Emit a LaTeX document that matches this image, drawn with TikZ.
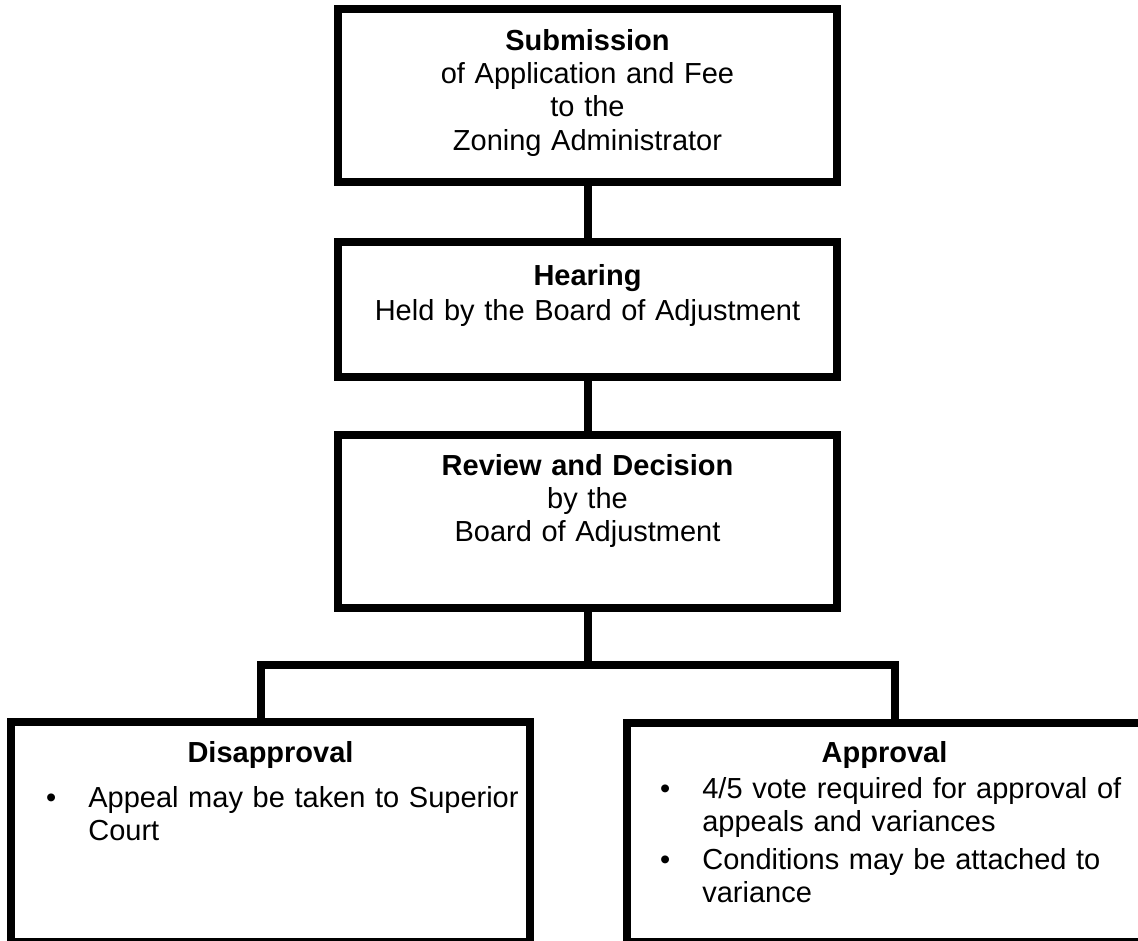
\documentclass[tikz,border=0pt]{standalone}
\usepackage{fontspec}
\setmainfont{Liberation Sans}
\newcommand{\bul}{\leavevmode\llap{\makebox[24pt][l]{•}}}
\begin{document}
\begin{tikzpicture}[x=0.02cm,y=-0.02cm,
  box/.style={draw, line width=0.16cm, inner sep=0pt, outer sep=0pt, line join=miter},
  conn/.style={line width=0.16cm, line join=miter},
  txt/.style={inner sep=0pt, font=\fontsize{16.5}{19}\selectfont},
  ctxt/.style={txt, anchor=base, align=center, text width=9.5cm},
  ltxt/.style={txt, anchor=base west, align=left, text width=9.5cm}]
\useasboundingbox (0,0) rectangle (1138,940);
\clip (0,0) rectangle (1138,940);
\fill[white] (0,0) rectangle (1138,940);
% boxes
\node[box, minimum width=9.98cm, minimum height=3.46cm] (b1) at (587.5,95.5) {};
\node[box, minimum width=9.98cm, minimum height=2.70cm] (b2) at (587.5,309.5) {};
\node[box, minimum width=9.98cm, minimum height=3.46cm] (b3) at (587.5,521.5) {};
\node[box, minimum width=10.38cm, minimum height=4.40cm] (dis) at (270.5,832) {};
\node[box, minimum width=10.30cm, minimum height=4.38cm] (app) at (884.5,832.5) {};
% connectors
\coordinate (j) at (587.5,665);
\coordinate (bl) at (261,665);
\coordinate (br) at (895,665);
\draw[conn] (b1.south) -- (b2.north);
\draw[conn] (b2.south) -- (b3.north);
\draw[conn] (b3.south) -- (j);
\draw[conn] (bl |- dis.north) -- (bl) -- (br) -- (br |- app.north);
% texts
\node[ctxt] (t1) at (587.5,50) {\textbf{Submission}\\of Application and Fee\\to the\\Zoning Administrator};
\node[ctxt] (t2) at (587.5,285) {\textbf{Hearing}\\[1pt]Held by the Board of Adjustment};
\node[ctxt] (t3) at (587.5,475) {\textbf{Review and Decision}\\by the\\Board of Adjustment};
\node[ctxt] (dt) at (270.5,762) {\textbf{Disapproval}};
\node[ltxt] (di) at (88,807) {\bul Appeal may be taken to Superior\\Court};
\node[ctxt] (at) at (884.5,762) {\textbf{Approval}};
\node[ltxt] (ai) at (702,798) {\bul 4/5 vote required for approval of\\appeals and variances\\[2.5pt]\bul Conditions may be attached to\\variance};
\end{tikzpicture}
\end{document}
